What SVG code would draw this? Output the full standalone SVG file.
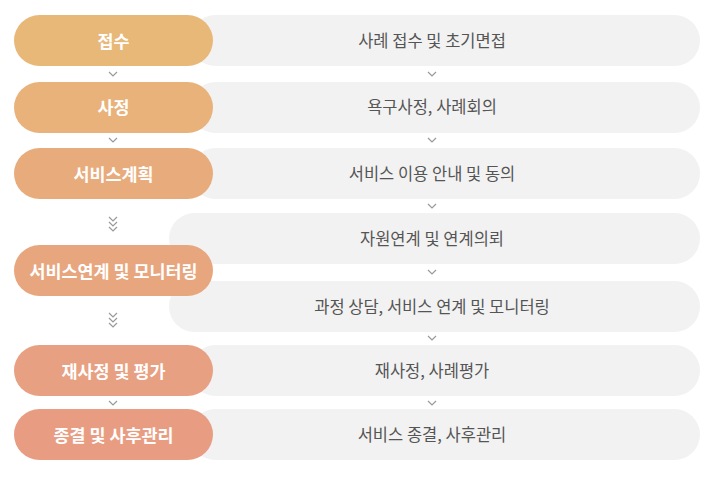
<svg xmlns="http://www.w3.org/2000/svg" width="715" height="481" viewBox="0 0 715 481">
<defs>
<style>
.bar{fill:#F2F2F2}
.pt{font-family:"Noto Sans CJK KR","Noto Sans",sans-serif;font-size:17.4px;font-weight:bold;fill:#FFFFFF;text-anchor:middle;dominant-baseline:central}
.bt{font-family:"Noto Sans CJK KR","Noto Sans",sans-serif;font-size:16.5px;fill:#555555;text-anchor:middle;dominant-baseline:central}
.chev{fill:none;stroke:#999999;stroke-width:1.2}
</style>
<path id="cv" d="M-4,-2 L0,2 L4,-2"/>
</defs>
<rect width="715" height="481" fill="#FFFFFF"/>
<g id="bars">
<g id="bar1"><rect class="bar" x="190" y="15" width="510" height="51" rx="25.5"/><text class="bt" x="432" y="40">사례 접수 및 초기면접</text></g>
<g id="bar2"><rect class="bar" x="190" y="82" width="510" height="51" rx="25.5"/><text class="bt" x="432" y="106">욕구사정, 사례회의</text></g>
<g id="bar3"><rect class="bar" x="190" y="148" width="510" height="51" rx="25.5"/><text class="bt" x="432" y="173">서비스 이용 안내 및 동의</text></g>
<g id="bar4a"><rect class="bar" x="169" y="213" width="531" height="51" rx="25.5"/><text class="bt" x="432" y="238">자원연계 및 연계의뢰</text></g>
<g id="bar4b"><rect class="bar" x="169" y="281" width="531" height="51" rx="25.5"/><text class="bt" x="432" y="306">과정 상담, 서비스 연계 및 모니터링</text></g>
<g id="bar5"><rect class="bar" x="190" y="345" width="510" height="51" rx="25.5"/><text class="bt" x="432" y="370">재사정, 사례평가</text></g>
<g id="bar6"><rect class="bar" x="190" y="409" width="510" height="51" rx="25.5"/><text class="bt" x="432" y="434">서비스 종결, 사후관리</text></g>
</g>
<g id="steps">
<g id="step1"><rect x="14" y="15" width="199" height="51" rx="25.5" fill="#E8B878"/><text class="pt" x="113.5" y="40">접수</text></g>
<g id="step2"><rect x="14" y="82" width="199" height="51" rx="25.5" fill="#E8B27A"/><text class="pt" x="113.5" y="106">사정</text></g>
<g id="step3"><rect x="14" y="148" width="199" height="51" rx="25.5" fill="#E8AC7C"/><text class="pt" x="113.5" y="173">서비스계획</text></g>
<g id="step4"><rect x="14" y="245" width="199" height="51" rx="25.5" fill="#E8A67E"/><text class="pt" x="113.5" y="270">서비스연계 및 모니터링</text></g>
<g id="step5"><rect x="14" y="345" width="199" height="51" rx="25.5" fill="#E8A082"/><text class="pt" x="113.5" y="370">재사정 및 평가</text></g>
<g id="step6"><rect x="14" y="409" width="199" height="51" rx="25.5" fill="#E89D83"/><text class="pt" x="113.5" y="434">종결 및 사후관리</text></g>
</g>
<g id="connectors" class="chev">
<use href="#cv" x="113" y="74"/>
<use href="#cv" x="113" y="140"/>
<use href="#cv" x="113" y="219"/><use href="#cv" x="113" y="224"/><use href="#cv" x="113" y="229"/>
<use href="#cv" x="113" y="315"/><use href="#cv" x="113" y="320"/><use href="#cv" x="113" y="325"/>
<use href="#cv" x="113" y="403"/>
<use href="#cv" x="432" y="74"/>
<use href="#cv" x="432" y="140"/>
<use href="#cv" x="432" y="206"/>
<use href="#cv" x="432" y="272"/>
<use href="#cv" x="432" y="338"/>
<use href="#cv" x="432" y="403"/>
</g>
</svg>
